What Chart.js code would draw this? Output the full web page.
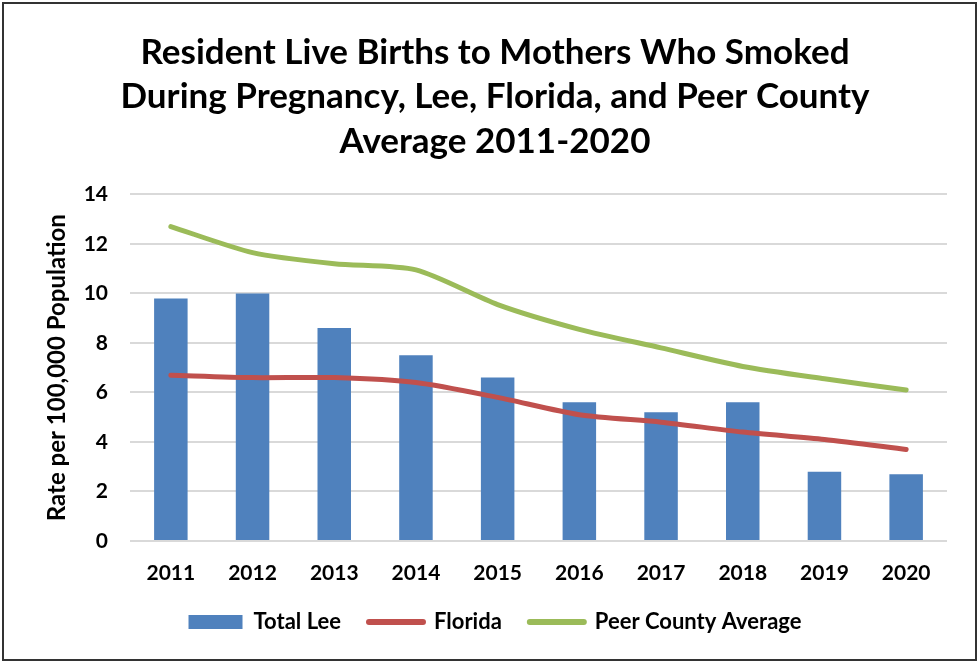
<!DOCTYPE html>
<html>
<head>
<meta charset="utf-8">
<script src="https://cdn.jsdelivr.net/npm/chart.js@4"></script>
<style>
  html, body { margin: 0; padding: 0; background: #fff; }
  #wrap { width: 979px; height: 665px; }
</style>
</head>
<body>
<div id="wrap"><canvas id="birthsChart" width="979" height="665"></canvas></div>
<script>
const years = ["2011", "2012", "2013", "2014", "2015", "2016", "2017", "2018", "2019", "2020"];
const totalLee = [9.8, 10.0, 8.6, 7.5, 6.6, 5.6, 5.2, 5.6, 2.8, 2.7];
const florida = [6.7, 6.6, 6.6, 6.4, 5.8, 5.1, 4.8, 4.4, 4.1, 3.7];
const peerAverage = [12.7, 11.65, 11.2, 10.95, 9.55, 8.55, 7.8, 7.05, 6.55, 6.1];
const titleLines = [
    "Resident Live Births to Mothers Who Smoked",
    "During Pregnancy, Lee, Florida, and Peer County",
    "Average 2011-2020"
];

const FONT = "Lato, 'Open Sans', sans-serif";

// white page with the dark frame around the whole chart
const framePlugin = {
    id: "frame",
    beforeDraw(chart) {
        const c = chart.ctx;
        c.save();
        c.fillStyle = "#fff";
        c.fillRect(0, 0, chart.width, chart.height);
        c.strokeStyle = "#333";
        c.lineWidth = 2;
        c.strokeRect(3, 3, chart.width - 6, chart.height - 8);
        c.restore();
    }
};

const ctx = document.getElementById("birthsChart").getContext("2d");

new Chart(ctx, {
    data: {
        labels: years,
        datasets: [
            {
                type: "bar",
                label: "Total Lee",
                data: totalLee,
                backgroundColor: "#4F81BD",
                categoryPercentage: 1.0,
                barPercentage: 0.41,
                order: 2
            },
            {
                type: "line",
                label: "Florida",
                data: florida,
                borderColor: "#C0504D",
                backgroundColor: "#C0504D",
                borderWidth: 5,
                pointRadius: 0,
                tension: 0.25,
                borderCapStyle: "round",
                order: 1
            },
            {
                type: "line",
                label: "Peer County Average",
                data: peerAverage,
                borderColor: "#9BBB59",
                backgroundColor: "#9BBB59",
                borderWidth: 5,
                pointRadius: 0,
                tension: 0.25,
                borderCapStyle: "round",
                order: 0
            }
        ]
    },
    options: {
        responsive: false,
        animation: false,
        layout: { padding: { left: 43, right: 32, top: 30, bottom: 22 } },
        plugins: {
            title: {
                display: true,
                text: titleLines,
                color: "#000",
                font: { family: FONT, size: 35, weight: "bold", lineHeight: 1.28 },
                padding: { top: 0, bottom: 30 }
            },
            legend: {
                position: "bottom",
                labels: {
                    color: "#000",
                    font: { family: FONT, size: 22, weight: "bold" },
                    usePointStyle: true,
                    pointStyleWidth: 54,
                    boxHeight: 14,
                    padding: 28,
                    generateLabels(chart) {
                        return chart.data.datasets.map((ds, i) => {
                            const isLine = ds.type === "line";
                            return {
                                text: ds.label,
                                fillStyle: ds.backgroundColor,
                                strokeStyle: ds.borderColor || ds.backgroundColor,
                                lineWidth: isLine ? 6 : 0,
                                lineCap: "round",
                                pointStyle: isLine ? "line" : "rect",
                                datasetIndex: i
                            };
                        });
                    }
                }
            },
            tooltip: { enabled: false }
        },
        scales: {
            x: {
                grid: { display: false },
                border: { display: false },
                ticks: {
                    color: "#000",
                    font: { family: FONT, size: 21, weight: "bold" },
                    padding: 12
                },
                afterFit(scale) { scale.height = 42; }
            },
            y: {
                min: 0,
                max: 14,
                ticks: {
                    stepSize: 2,
                    color: "#000",
                    font: { family: FONT, size: 21, weight: "bold" },
                    padding: 22
                },
                grid: { color: "#D9D9D9", lineWidth: 2, drawTicks: false },
                border: { display: false },
                title: {
                    display: true,
                    text: "Rate per 100,000 Population",
                    color: "#000",
                    font: { family: FONT, size: 24, weight: "bold" },
                    padding: { top: 0, bottom: 2 }
                },
                afterFit(scale) { scale.width = 87; }
            }
        }
    },
    plugins: [framePlugin]
});
</script>
</body>
</html>
